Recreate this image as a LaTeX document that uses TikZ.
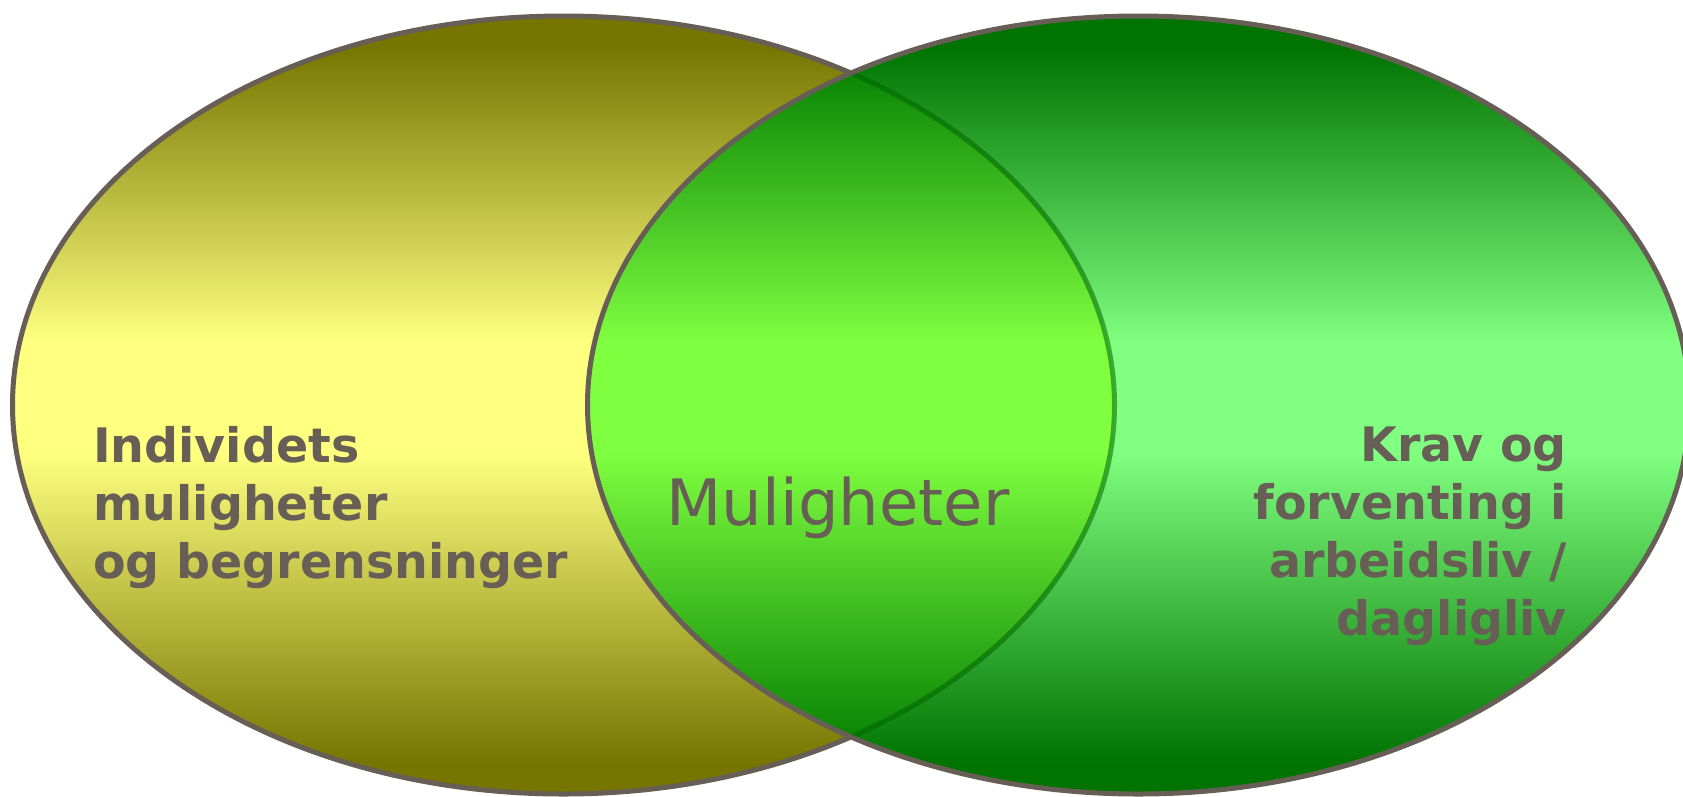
\documentclass[tikz,border=0pt]{standalone}
\usepackage{fontspec}
\setmainfont{DejaVu Sans}
\definecolor{txtgray}{RGB}{103,94,86}
\definecolor{olivedark}{RGB}{118,117,0}
\definecolor{yellowlight}{RGB}{255,255,128}
\definecolor{greendark}{RGB}{0,115,0}
\definecolor{greenlight}{RGB}{128,255,128}
\definecolor{limedark}{RGB}{0,122,0}
\definecolor{limelight}{RGB}{128,255,64}
\definecolor{innerline}{RGB}{0,100,0}
\pgfdeclareverticalshading{yshade}{100bp}{color(0bp)=(olivedark); color(25bp)=(olivedark); color(27bp)=(olivedark); color(47bp)=(yellowlight); color(54bp)=(yellowlight); color(73bp)=(olivedark); color(75bp)=(olivedark); color(100bp)=(olivedark)}
\pgfdeclareverticalshading{gshade}{100bp}{color(0bp)=(greendark); color(25bp)=(greendark); color(27bp)=(greendark); color(47bp)=(greenlight); color(54bp)=(greenlight); color(73bp)=(greendark); color(75bp)=(greendark); color(100bp)=(greendark)}
\pgfdeclareverticalshading{lshade}{100bp}{color(0bp)=(limedark); color(25bp)=(limedark); color(27bp)=(limedark); color(47bp)=(limelight); color(54bp)=(limelight); color(73bp)=(limedark); color(75bp)=(limedark); color(100bp)=(limedark)}
\tikzset{
  outline/.style={draw=txtgray, line width=5pt},
  bigbold/.style={text=txtgray, font=\fontsize{47.5}{58}\selectfont\bfseries, inner sep=0pt},
  midlabel/.style={text=txtgray, font=\fontsize{64}{70}\selectfont, inner sep=0pt}
}
\begin{document}
\begin{tikzpicture}[x=1pt,y=-1pt]
\useasboundingbox (0,0) rectangle (1683,796);
\clip (0,0) rectangle (1683,796);
% left ellipse
\shade[shading=yshade]
  (563.5,405) ellipse [x radius=551, y radius=389];
\draw[outline] (563.5,405) ellipse [x radius=551, y radius=389];
% right ellipse
\shade[shading=gshade]
  (1138.5,405) ellipse [x radius=551, y radius=389];
% overlap
\begin{scope}
  \clip (563.5,405) ellipse [x radius=551, y radius=389];
  \shade[shading=lshade]
    (1138.5,405) ellipse [x radius=551, y radius=389];
\end{scope}
% left outline seen through right ellipse
\begin{scope}
  \clip (1138.5,405) ellipse [x radius=551, y radius=389];
  \draw[draw=innerline, draw opacity=0.55, line width=5pt]
    (563.5,405) ellipse [x radius=551, y radius=389];
\end{scope}
\draw[outline] (1138.5,405) ellipse [x radius=551, y radius=389];
% texts (base anchor = baseline of last line)
\node[bigbold, anchor=base west, align=left] (lefttxt) at (93,578)
  {Individets\\muligheter\\og begrensninger};
\node[bigbold, anchor=base east, align=right] (righttxt) at (1567,635)
  {Krav og\\forventing i\\arbeidsliv /\\dagligliv};
\node[midlabel, anchor=base] (midtxt) at (838,525) {Muligheter};
\end{tikzpicture}
\end{document}
